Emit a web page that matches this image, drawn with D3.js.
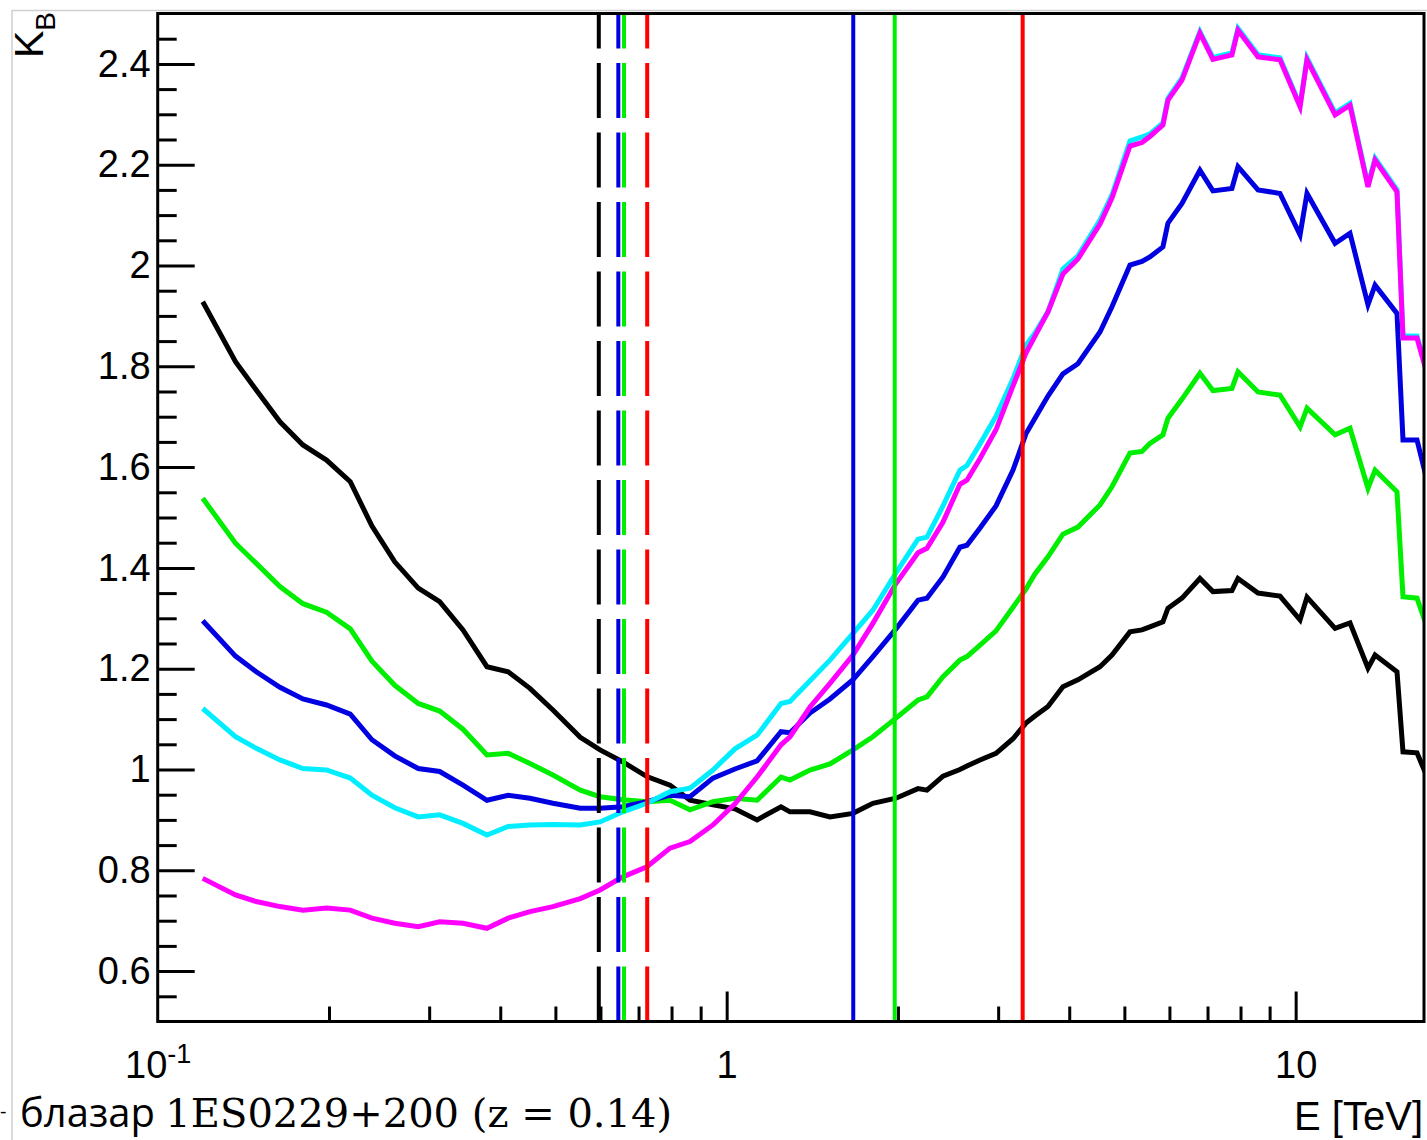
<!DOCTYPE html>
<html>
<head>
<meta charset="utf-8">
<script src="https://cdn.jsdelivr.net/npm/d3@7"></script>
<style>
  body { margin: 0; background: #fff; }
  svg { display: block; }
</style>
</head>
<body>
<svg id="chart" width="1427" height="1140"></svg>
<script>
// Energy grid, TeV
const energy = [0.120, 0.137, 0.149, 0.164, 0.180, 0.198, 0.218, 0.238, 0.261, 0.287,
  0.313, 0.344, 0.379, 0.413, 0.451, 0.495, 0.553, 0.599, 0.657, 0.724,
  0.795, 0.862, 0.946, 1.034, 1.131, 1.246, 1.292, 1.401, 1.519, 1.667,
  1.807, 1.984, 2.169, 2.249, 2.400, 2.570, 2.644, 2.788, 2.974, 3.186,
  3.357, 3.482, 3.670, 3.899, 4.143, 4.530, 4.755, 5.114, 5.369, 5.544,
  5.844, 5.964, 6.313, 6.788, 7.155, 7.727, 7.918, 8.587, 9.385, 10.18,
  10.47, 11.73, 12.46, 13.40, 13.79, 15.07, 15.44, 16.34, 17.01];

// K_B for each model
const kBlack = [1.928, 1.809, 1.753, 1.690, 1.644, 1.614, 1.571, 1.483, 1.412, 1.360,
  1.333, 1.277, 1.204, 1.194, 1.161, 1.118, 1.064, 1.039, 1.015, 0.986,
  0.969, 0.939, 0.930, 0.922, 0.900, 0.926, 0.916, 0.916, 0.906, 0.913,
  0.933, 0.943, 0.962, 0.959, 0.987, 1.000, 1.007, 1.019, 1.032, 1.061,
  1.092, 1.106, 1.125, 1.164, 1.178, 1.204, 1.227, 1.273, 1.277, 1.283,
  1.293, 1.320, 1.340, 1.379, 1.353, 1.355, 1.379, 1.350, 1.344, 1.297,
  1.342, 1.280, 1.291, 1.201, 1.227, 1.194, 1.035, 1.033, 0.986];

const kGreen = [1.538, 1.449, 1.409, 1.363, 1.329, 1.312, 1.279, 1.215, 1.167, 1.131,
  1.116, 1.080, 1.029, 1.032, 1.012, 0.989, 0.959, 0.946, 0.940, 0.936,
  0.939, 0.920, 0.936, 0.943, 0.939, 0.985, 0.979, 0.999, 1.011, 1.039,
  1.065, 1.102, 1.138, 1.144, 1.184, 1.217, 1.224, 1.247, 1.275, 1.322,
  1.358, 1.388, 1.422, 1.467, 1.481, 1.525, 1.561, 1.628, 1.631, 1.647,
  1.664, 1.697, 1.735, 1.786, 1.752, 1.756, 1.789, 1.749, 1.743, 1.680,
  1.717, 1.664, 1.677, 1.558, 1.594, 1.551, 1.343, 1.340, 1.283];

const kBlue = [1.295, 1.225, 1.194, 1.163, 1.140, 1.128, 1.110, 1.059, 1.027, 1.002,
  0.996, 0.969, 0.939, 0.949, 0.943, 0.933, 0.923, 0.923, 0.926, 0.936,
  0.949, 0.946, 0.983, 1.001, 1.017, 1.075, 1.073, 1.112, 1.140, 1.178,
  1.224, 1.279, 1.336, 1.340, 1.382, 1.441, 1.445, 1.479, 1.523, 1.594,
  1.666, 1.697, 1.741, 1.785, 1.805, 1.868, 1.918, 2.001, 2.008, 2.017,
  2.037, 2.084, 2.123, 2.189, 2.148, 2.153, 2.196, 2.150, 2.143, 2.061,
  2.143, 2.044, 2.064, 1.922, 1.961, 1.905, 1.654, 1.654, 1.574];

const kCyan = [1.121, 1.065, 1.042, 1.019, 1.002, 0.999, 0.983, 0.949, 0.924, 0.906,
  0.910, 0.893, 0.870, 0.887, 0.890, 0.891, 0.890, 0.896, 0.916, 0.933,
  0.956, 0.963, 0.999, 1.041, 1.068, 1.131, 1.135, 1.176, 1.217, 1.270,
  1.316, 1.390, 1.457, 1.461, 1.523, 1.594, 1.603, 1.646, 1.701, 1.775,
  1.842, 1.866, 1.908, 1.993, 2.019, 2.090, 2.140, 2.247, 2.255, 2.261,
  2.283, 2.332, 2.372, 2.464, 2.413, 2.422, 2.471, 2.418, 2.412, 2.318,
  2.412, 2.303, 2.322, 2.160, 2.213, 2.150, 1.860, 1.860, 1.791];

const kMagenta = [0.784, 0.751, 0.738, 0.728, 0.721, 0.725, 0.721, 0.705, 0.695, 0.688,
  0.698, 0.695, 0.685, 0.705, 0.718, 0.728, 0.744, 0.761, 0.787, 0.807,
  0.844, 0.857, 0.890, 0.932, 0.985, 1.049, 1.065, 1.124, 1.171, 1.227,
  1.290, 1.369, 1.430, 1.439, 1.491, 1.566, 1.574, 1.617, 1.674, 1.761,
  1.826, 1.860, 1.908, 1.983, 2.013, 2.082, 2.134, 2.237, 2.244, 2.256,
  2.279, 2.328, 2.368, 2.461, 2.409, 2.418, 2.467, 2.414, 2.408, 2.315,
  2.408, 2.299, 2.318, 2.156, 2.209, 2.146, 1.856, 1.856, 1.786];

// Threshold energies (TeV): dashed set (black, blue, green, red), solid set (blue, green, red)
const dashedCuts = [0.596, 0.645, 0.660, 0.725];
const solidCuts = [1.669, 1.974, 3.313];

// Axis ticks
const xMajorTicks = [0.1, 1, 10];
const xMinorTicks = [0.2, 0.3, 0.4, 0.5, 0.6, 0.7, 0.8, 0.9, 2, 3, 4, 5, 6, 7, 8, 9];
const yMajorTicks = [0.6, 0.8, 1.0, 1.2, 1.4, 1.6, 1.8, 2.0, 2.2, 2.4];
const yMinorTicks = [0.55, 0.65, 0.7, 0.75, 0.85, 0.9, 0.95, 1.05, 1.1, 1.15, 1.25, 1.3, 1.35,
  1.45, 1.5, 1.55, 1.65, 1.7, 1.75, 1.85, 1.9, 1.95, 2.05, 2.1, 2.15, 2.25, 2.3, 2.35, 2.45];

const xDomain = [0.1, 16.81];
const yDomain = [0.5, 2.5];

// ---- drawing ----
const svg = d3.select('#chart');
const frame = { left: 157.7, top: 13.5, right: 1424, bottom: 1021.5 };

const x = d3.scaleLog().domain(xDomain).range([frame.left, frame.right]);
const y = d3.scaleLinear().domain(yDomain).range([frame.bottom, frame.top]);

svg.append('rect').attr('width', 1427).attr('height', 1140).attr('fill', '#fff');

// pale page border
svg.append('path')
  .attr('d', `M12,1140 V10.5 H1427`)
  .attr('fill', 'none').attr('stroke', '#cfcfcf').attr('stroke-width', 1.5);

svg.append('clipPath').attr('id', 'plotClip')
  .append('rect')
  .attr('x', frame.left).attr('y', frame.top)
  .attr('width', frame.right - frame.left).attr('height', frame.bottom - frame.top);

const plot = svg.append('g').attr('clip-path', 'url(#plotClip)');

const seriesList = [
  { values: kBlack, color: '#000000' },
  { values: kGreen, color: '#00ee00' },
  { values: kBlue, color: '#0000e0' },
  { values: kCyan, color: '#00eeff' },
  { values: kMagenta, color: '#ff00ff' }
];

const line = d3.line()
  .x(d => x(d.e))
  .y(d => y(d.v));

seriesList.forEach(s => {
  const pts = energy.map((e, i) => ({ e, v: s.values[i] }));
  plot.append('path')
    .datum(pts)
    .attr('d', line)
    .attr('fill', 'none')
    .attr('stroke', s.color)
    .attr('stroke-width', 5)
    .attr('stroke-linejoin', 'miter')
    .attr('stroke-miterlimit', 4);
});

const dashedColors = ['#000000', '#0000e0', '#00ee00', '#ff0000'];
const solidColors = ['#0000e0', '#00ee00', '#ff0000'];

dashedCuts.forEach((e, i) => {
  plot.append('line')
    .attr('x1', x(e)).attr('x2', x(e))
    .attr('y1', y(yDomain[0])).attr('y2', y(yDomain[1]))
    .attr('stroke', dashedColors[i])
    .attr('stroke-width', 4)
    .attr('stroke-dasharray', '55,14.5');
});

solidCuts.forEach((e, i) => {
  plot.append('line')
    .attr('x1', x(e)).attr('x2', x(e))
    .attr('y1', y(yDomain[0])).attr('y2', y(yDomain[1]))
    .attr('stroke', solidColors[i])
    .attr('stroke-width', 4);
});

// ---- axes ----
const tickFont = 'Liberation Sans, Arial, Helvetica, sans-serif';

const xMajor = svg.append('g')
  .attr('transform', `translate(0,${frame.bottom})`)
  .call(d3.axisBottom(x).tickValues(xMajorTicks).tickSize(-30).tickPadding(30).tickFormat(d => d));
const xMinor = svg.append('g')
  .attr('transform', `translate(0,${frame.bottom})`)
  .call(d3.axisBottom(x).tickValues(xMinorTicks).tickSize(-15).tickFormat(''));

const yMajor = svg.append('g')
  .attr('transform', `translate(${frame.left},0)`)
  .call(d3.axisLeft(y).tickValues(yMajorTicks).tickSize(-37).tickPadding(7)
    .tickFormat(d => String(+d.toFixed(1))));
const yMinor = svg.append('g')
  .attr('transform', `translate(${frame.left},0)`)
  .call(d3.axisLeft(y).tickValues(yMinorTicks).tickSize(-19).tickFormat(''));

[xMajor, xMinor, yMajor, yMinor].forEach(g => {
  g.select('.domain').remove();
  g.selectAll('.tick line').attr('stroke', '#000').attr('stroke-width', 3);
  g.selectAll('.tick text')
    .attr('fill', '#000')
    .style('font-family', tickFont)
    .style('font-size', '38px');
});

// 10^-1 label
xMajor.selectAll('.tick text').each(function(d) {
  const t = d3.select(this);
  if (d === 0.1) {
    t.text(null);
    t.append('tspan').text('10');
    t.append('tspan').attr('dy', -15).style('font-size', '27px').text('-1');
  }
});
xMajor.selectAll('.tick').filter(d => d === 0.1).select('line').remove();

// frame
svg.append('rect')
  .attr('x', frame.left).attr('y', frame.top)
  .attr('width', frame.right - frame.left).attr('height', frame.bottom - frame.top)
  .attr('fill', 'none').attr('stroke', '#000').attr('stroke-width', 3);

// axis titles
const yTitle = svg.append('text')
  .attr('transform', 'translate(43,58) rotate(-90)')
  .style('font-family', tickFont)
  .style('font-size', '41px')
  .attr('fill', '#000');
yTitle.append('tspan').text('K');
yTitle.append('tspan').attr('dy', 12).style('font-size', '28px').text('B');

svg.append('text')
  .attr('x', 1423).attr('y', 1130)
  .attr('text-anchor', 'end')
  .style('font-family', tickFont)
  .style('font-size', '40px')
  .attr('fill', '#000')
  .text('E [TeV]');

// caption: short leading dash, then the source name
svg.append('text')
  .attr('x', 0).attr('y', 1118)
  .style('font-family', 'Open Sans, sans-serif')
  .style('font-size', '20px')
  .attr('fill', '#000')
  .text('-');

const caption = svg.append('text')
  .attr('x', 20).attr('y', 1127)
  .attr('fill', '#000');
caption.append('tspan')
  .style('font-family', 'Open Sans, sans-serif')
  .style('font-size', '40px')
  .text('блазар ');
caption.append('tspan')
  .style('font-family', 'DejaVu Serif, serif')
  .style('font-size', '40px')
  .text('1ES0229+200 (z = 0.14)');
</script>
</body>
</html>
